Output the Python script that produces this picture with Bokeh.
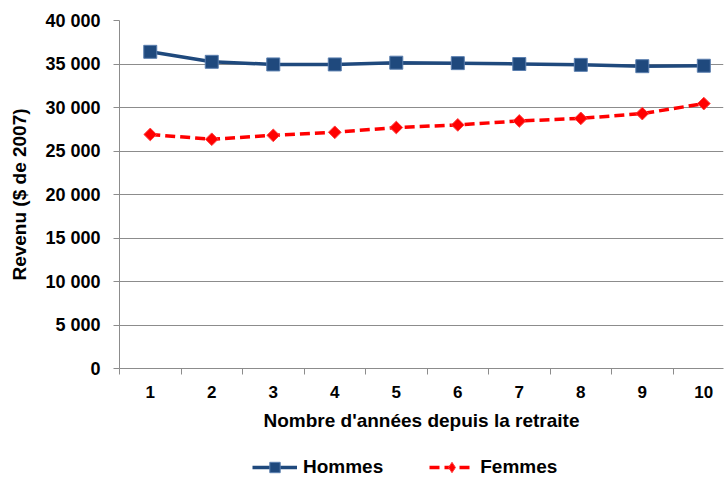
from bokeh.plotting import figure
from bokeh.models import FixedTicker, Range1d, Legend, LegendItem
from bokeh.layouts import column
from bokeh.embed import file_html
from bokeh.resources import INLINE
import math

years = [1, 2, 3, 4, 5, 6, 7, 8, 9, 10]
hommes = [36400, 35250, 34950, 34950, 35150, 35100, 35000, 34900, 34750, 34800]
femmes = [26900, 26350, 26800, 27150, 27700, 28000, 28450, 28750, 29300, 30450]
y_ticks = [0, 5000, 10000, 15000, 20000, 25000, 30000, 35000, 40000]
y_labels = ["0", "5 000", "10 000", "15 000", "20 000", "25 000", "30 000", "35 000", "40 000"]

FONT = "Liberation Sans"
GRID = "#8c8c8c"
BLUE = "#1F497D"
RED = "#FF0000"

p = figure(width=724, height=446, output_backend="svg", toolbar_location=None,
           x_range=Range1d(0.5, 10.32), y_range=Range1d(0, 40000),
           min_border_left=119, min_border_right=1, min_border_top=20, min_border_bottom=78)
p.outline_line_color = None
p.background_fill_color = "white"

# Y axis
p.yaxis.ticker = FixedTicker(ticks=y_ticks)
p.yaxis.major_label_overrides = {t: l for t, l in zip(y_ticks, y_labels)}
p.yaxis.major_label_text_font = FONT
p.yaxis.major_label_text_font_style = "bold"
p.yaxis.major_label_text_font_size = "18px"
p.yaxis.major_label_text_color = "black"
p.yaxis.major_label_standoff = 13
p.yaxis.major_tick_out = 6
p.yaxis.major_tick_in = 0
p.yaxis.minor_tick_line_color = None
p.yaxis.axis_line_color = GRID
p.yaxis.major_tick_line_color = GRID
p.yaxis.axis_label = "Revenu ($ de 2007)"
p.yaxis.axis_label_text_font = FONT
p.yaxis.axis_label_text_font_style = "bold"
p.yaxis.axis_label_text_font_size = "19px"
p.yaxis.axis_label_text_color = "black"
p.yaxis.axis_label_standoff = 12

# X axis
p.xaxis.ticker = FixedTicker(ticks=years, minor_ticks=[y - 0.5 for y in years] + [10.5])
p.xaxis.major_label_text_font = FONT
p.xaxis.major_label_text_font_style = "bold"
p.xaxis.major_label_text_font_size = "17px"
p.xaxis.major_label_text_color = "black"
p.xaxis.major_tick_line_color = None
p.xaxis.major_tick_out = 6
p.xaxis.major_tick_in = 0
p.xaxis.minor_tick_out = 6
p.xaxis.minor_tick_in = 0
p.xaxis.minor_tick_line_color = GRID
p.xaxis.axis_line_color = GRID
p.xaxis.major_label_standoff = 11
p.xaxis.axis_label = "Nombre d'années depuis la retraite"
p.xaxis.axis_label_text_font = FONT
p.xaxis.axis_label_text_font_style = "bold"
p.xaxis.axis_label_text_font_size = "19px"
p.xaxis.axis_label_text_color = "black"
p.xaxis.axis_label_standoff = 9

p.xgrid.grid_line_color = None
p.ygrid.ticker = FixedTicker(ticks=y_ticks)
p.ygrid.grid_line_color = GRID
p.ygrid.grid_line_width = 1


def draw(fig, legend_style=False):
    a = fig.line(years, hommes, line_color=BLUE, line_width=3.5)
    b = fig.scatter(years, hommes, marker="square", size=13, fill_color=BLUE,
                    line_color="#5B7FAF", line_width=1)
    c = fig.line(years, femmes, line_color=RED, line_width=3.5, line_dash="10 5")
    if legend_style:
        d = fig.scatter(years, femmes, marker="diamond", size=16,
                        fill_color=RED, line_color="#FF4040", line_width=1)
    else:
        d = fig.scatter(years, femmes, marker="square", angle=math.pi / 4, size=9,
                        fill_color=RED, line_color="#FF4040", line_width=1)
    return a, b, c, d


draw(p)

# Legend strip (separate small figure; its series lie outside its range)
pl = figure(width=724, height=34, output_backend="svg", toolbar_location=None,
            x_range=Range1d(0, 1), y_range=Range1d(0, 1),
            min_border_left=0, min_border_right=0, min_border_top=0, min_border_bottom=0)
pl.axis.visible = False
pl.grid.visible = False
pl.outline_line_color = None
l1, s1, l2, s2 = draw(pl, legend_style=True)

legend = Legend(items=[LegendItem(label="Hommes", renderers=[l1, s1]),
                       LegendItem(label="Femmes", renderers=[l2, s2])],
                orientation="horizontal", location=(133, 0))
legend.label_text_font = FONT
legend.label_text_font_style = "bold"
legend.label_text_font_size = "19px"
legend.label_text_color = "black"
legend.glyph_width = 45
legend.glyph_height = 26
legend.label_height = 26
legend.label_standoff = 6
legend.spacing = 46
legend.padding = 0
legend.margin = 0
legend.border_line_color = None
legend.background_fill_alpha = 0
pl.add_layout(legend, "center")

open("out.html", "w").write(file_html(column(p, pl), INLINE))
